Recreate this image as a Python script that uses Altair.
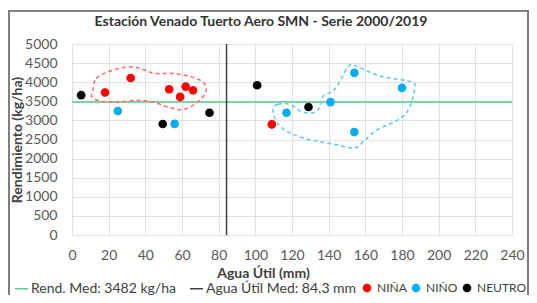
import altair as alt
import pandas as pd

# ---------------- data ----------------
nina_agua = [18, 32, 53, 62, 66, 59, 109]
nina_rend = [3730, 4110, 3815, 3885, 3790, 3615, 2895]
nino_agua = [25, 56, 117, 141, 154, 180, 154]
nino_rend = [3245, 2910, 3200, 3480, 4245, 3850, 2695]
neutro_agua = [5, 49.5, 75, 101, 129]
neutro_rend = [3660, 2905, 3200, 3920, 3350]

med_rend = 3482
med_agua = 84.3

# hand-drawn dashed outlines (data units)
nina_zona_agua = [11.4, 13.2, 21.2, 31.8, 38.9, 45.1, 54.9, 65.5, 72.2, 72.6,
                  67.3, 60.2, 52.2, 44.2, 35.4, 24.7, 15.8, 10.9]
nina_zona_rend = [3789, 4097, 4298, 4403, 4333, 4228, 4228, 4140, 3965, 3702,
                  3439, 3281, 3351, 3482, 3526, 3482, 3500, 3614]
nino_zona_agua = [109.8, 112.4, 118.7, 125.7, 132.8, 136.0, 137.3, 142.6, 147.0,
                  151.4, 156.7, 168.3, 185.1, 186.9, 184.2, 178.9, 166.5, 159.4,
                  154.1, 141.7, 125.7, 115.1, 110.7]
nino_zona_rend = [3307, 3421, 3421, 3219, 3219, 3439, 3658, 3772, 4097,
                  4447, 4386, 4158, 4008, 3834, 3351, 3044, 2754, 2474,
                  2281, 2386, 2544, 2781, 3044]

tipos = ["NIÑA", "NIÑO", "NEUTRO"]
lab_rend = "Rend. Med: 3482 kg/ha"
lab_agua = "Agua Útil Med: 84.3 mm"
titulo = "Estación Venado Tuerto Aero SMN - Serie 2000/2019"

x_ticks = list(range(0, 241, 20))
y_ticks = list(range(0, 5001, 500))

# ---------------- tables ----------------
pts = pd.concat([
    pd.DataFrame({"agua": nina_agua, "rend": nina_rend, "tipo": "NIÑA"}),
    pd.DataFrame({"agua": nino_agua, "rend": nino_rend, "tipo": "NIÑO"}),
    pd.DataFrame({"agua": neutro_agua, "rend": neutro_rend, "tipo": "NEUTRO"}),
], ignore_index=True)

zona_nina = pd.DataFrame({"agua": nina_zona_agua, "rend": nina_zona_rend,
                          "i": range(len(nina_zona_agua))})
zona_nino = pd.DataFrame({"agua": nino_zona_agua, "rend": nino_zona_rend,
                          "i": range(len(nino_zona_agua))})
df_h = pd.DataFrame({"rend": [med_rend], "serie": [lab_rend]})
df_v = pd.DataFrame({"agua": [med_agua], "serie": [lab_agua]})

FONT = "Lato"

xs = alt.Scale(domain=[0, 240], nice=False, zero=False)
ys = alt.Scale(domain=[0, 5000], nice=False, zero=False)
xaxis = alt.Axis(values=x_ticks, format="d", title="Agua Útil (mm)", ticks=False, domain=False,
                 labelFlush=False, labelPadding=13, titlePadding=4, titleX=191)
yaxis = alt.Axis(values=y_ticks, format="d", title="Rendimiento (kg/ha)", ticks=False,
                 domain=False, labelFlush=False, labelPadding=15, titlePadding=0)
X = alt.X("agua:Q", scale=xs, axis=xaxis)
Y = alt.Y("rend:Q", scale=ys, axis=yaxis)

line_legend = alt.Legend(title=None, orient="none", legendX=-58, legendY=237,
                         direction="horizontal", symbolType="stroke", symbolSize=169,
                         symbolStrokeWidth=1.5, labelFont=FONT, labelFontSize=14,
                         labelColor="#404040", columnPadding=11, labelOffset=2, padding=0)
pt_legend = alt.Legend(title=None, orient="none", legendX=289, legendY=238,
                       direction="horizontal", symbolType="circle", gridAlign="none",
                       labelFont=FONT, labelFontSize=12, labelColor="#404040",
                       columnPadding=3, labelOffset=4, padding=0)

stroke_enc = alt.Stroke("serie:N",
                        scale=alt.Scale(domain=[lab_rend, lab_agua], range=["#5CC98A", "#404040"]),
                        legend=line_legend)

h_rule = alt.Chart(df_h).mark_rule(strokeWidth=1.5).encode(y=Y, stroke=stroke_enc)
v_rule = alt.Chart(df_v).mark_rule(strokeWidth=1.5).encode(x=X, stroke=stroke_enc)

outline_nina = alt.Chart(zona_nina).mark_line(
    stroke="#FF6B6B", strokeWidth=1.5, strokeDash=[4, 3], interpolate="cardinal-closed"
).encode(x=X, y=Y, order="i:Q")
outline_nino = alt.Chart(zona_nino).mark_line(
    stroke="#5EC8EE", strokeWidth=1.5, strokeDash=[4, 3], interpolate="cardinal-closed"
).encode(x=X, y=Y, order="i:Q")

points = alt.Chart(pts).mark_circle(opacity=1).encode(
    x=X, y=Y,
    color=alt.Color("tipo:N", scale=alt.Scale(domain=tipos, range=["#FF0000", "#00AEEF", "#000000"]),
                    legend=pt_legend),
    size=alt.Size("tipo:N", scale=alt.Scale(domain=tipos, range=[75, 75, 28]), legend=pt_legend),
)

frame = alt.Chart(pd.DataFrame({"k": [0]})).mark_rect(
    filled=False, stroke="#7F7F7F", strokeWidth=2
).encode(x=alt.value(-63), x2=alt.value(456), y=alt.value(-33), y2=alt.value(300))

chart = alt.layer(frame, h_rule, v_rule, outline_nina, outline_nino, points).properties(
    width=440, height=191,
    padding={"left": 64, "top": 36, "right": 17, "bottom": 60},
    autosize=alt.AutoSizeParams(type="none"),
    title=alt.TitleParams(text=titulo, font=FONT, fontSize=14, fontWeight="bold",
                          color="#333333", anchor="middle", frame="group",
                          baseline="middle", offset=0, dx=-31, dy=26),
).configure_axis(
    labelFont=FONT, labelFontSize=14, labelColor="#595959",
    titleFont=FONT, titleFontSize=14, titleFontWeight="bold", titleColor="#404040",
    gridColor="#E2E2E2", gridWidth=1,
).configure_view(stroke=None).configure_legend(padding=0)

chart.save("out.html", embed_options={"renderer": "svg", "actions": False})
